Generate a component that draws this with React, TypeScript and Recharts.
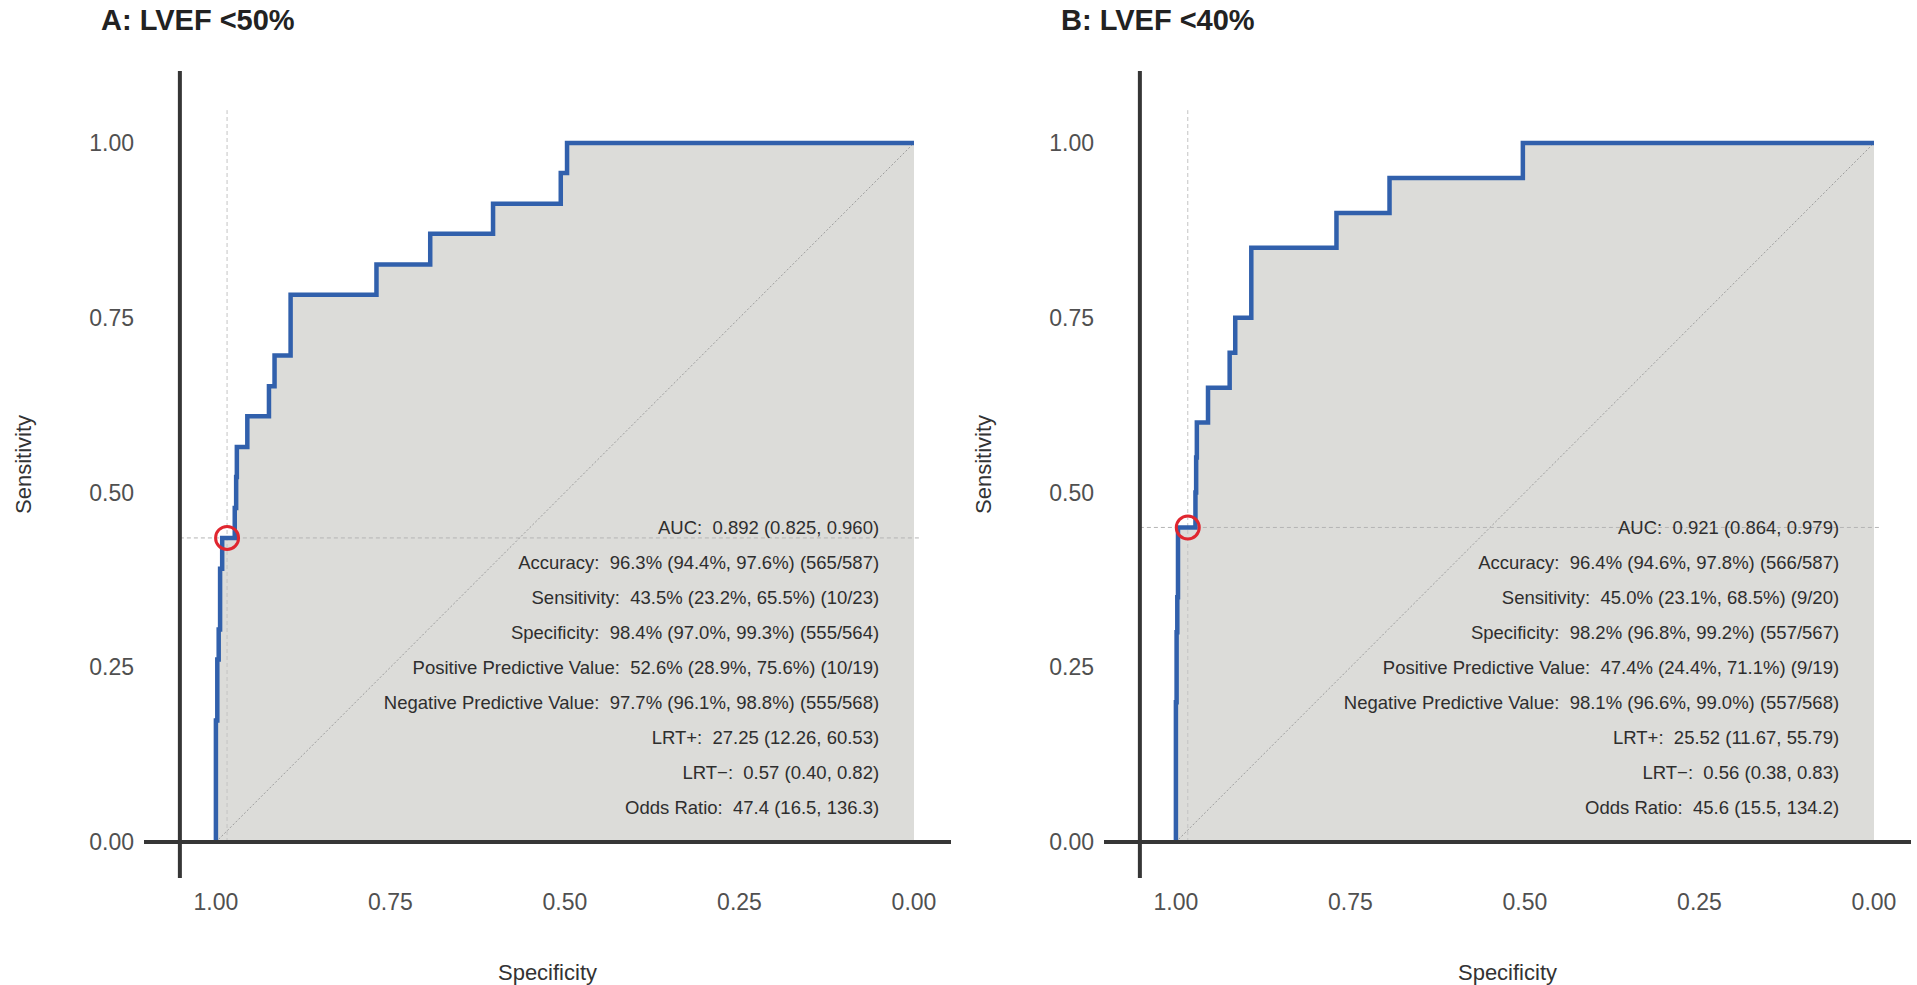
import React from "react"
import { ComposedChart, Area, Line, XAxis, YAxis, ReferenceLine, ReferenceDot } from "recharts"

const FONT = '"Liberation Sans", Arial, Helvetica, sans-serif'

// ROC step curve, panel A (LVEF <50%)
const specA = [
    1.0, 1.0, 0.998, 0.998, 0.996, 0.996, 0.994, 0.994, 0.991, 0.991, 0.973, 0.973, 0.971, 0.971, 0.97, 0.97,
    0.955, 0.955, 0.924, 0.924, 0.916, 0.916, 0.893, 0.893, 0.77, 0.77, 0.693, 0.693, 0.603, 0.603, 0.506, 0.506,
    0.497, 0.497, 0.0,
]
const sensA = [
    0.0, 0.174, 0.174, 0.261, 0.261, 0.304, 0.304, 0.391, 0.391, 0.435, 0.435, 0.478, 0.478, 0.522, 0.522, 0.565,
    0.565, 0.609, 0.609, 0.652, 0.652, 0.696, 0.696, 0.783, 0.783, 0.826, 0.826, 0.87, 0.87, 0.913, 0.913, 0.957,
    0.957, 1.0, 1.0,
]

// ROC step curve, panel B (LVEF <40%)
const specB = [
    1.0, 1.0, 0.999, 0.999, 0.998, 0.998, 0.997, 0.997, 0.972, 0.972, 0.971, 0.971, 0.97, 0.97, 0.954, 0.954,
    0.923, 0.923, 0.915, 0.915, 0.892, 0.892, 0.77, 0.77, 0.694, 0.694, 0.503, 0.503, 0.0,
]
const sensB = [
    0.0, 0.2, 0.2, 0.3, 0.3, 0.35, 0.35, 0.45, 0.45, 0.5, 0.5, 0.55, 0.55, 0.6, 0.6, 0.65, 0.65, 0.7, 0.7, 0.75,
    0.75, 0.85, 0.85, 0.9, 0.9, 0.95, 0.95, 1.0, 1.0,
]

const cutoffA = { spec: 0.984, sens: 0.435 }
const cutoffB = { spec: 0.983, sens: 0.45 }

const statsA = [
    "AUC:\u00a0 0.892 (0.825, 0.960)",
    "Accuracy:\u00a0 96.3% (94.4%, 97.6%) (565/587)",
    "Sensitivity:\u00a0 43.5% (23.2%, 65.5%) (10/23)",
    "Specificity:\u00a0 98.4% (97.0%, 99.3%) (555/564)",
    "Positive Predictive Value:\u00a0 52.6% (28.9%, 75.6%) (10/19)",
    "Negative Predictive Value:\u00a0 97.7% (96.1%, 98.8%) (555/568)",
    "LRT+:\u00a0 27.25 (12.26, 60.53)",
    "LRT\u2212:\u00a0 0.57 (0.40, 0.82)",
    "Odds Ratio:\u00a0 47.4 (16.5, 136.3)",
]
const statsB = [
    "AUC:\u00a0 0.921 (0.864, 0.979)",
    "Accuracy:\u00a0 96.4% (94.6%, 97.8%) (566/587)",
    "Sensitivity:\u00a0 45.0% (23.1%, 68.5%) (9/20)",
    "Specificity:\u00a0 98.2% (96.8%, 99.2%) (557/567)",
    "Positive Predictive Value:\u00a0 47.4% (24.4%, 71.1%) (9/19)",
    "Negative Predictive Value:\u00a0 98.1% (96.6%, 99.0%) (557/568)",
    "LRT+:\u00a0 25.52 (11.67, 55.79)",
    "LRT\u2212:\u00a0 0.56 (0.38, 0.83)",
    "Odds Ratio:\u00a0 45.6 (15.5, 134.2)",
]

const axisTicks = [0, 0.25, 0.5, 0.75, 1]

// panel range (axis lines run to the edges of it)
const X_DOMAIN: [number, number] = [-0.053, 1.103]
const Y_DOMAIN: [number, number] = [-0.0515, 1.103]
const Y_AXIS_AT = 1.0516

const AXIS_COLOR = "#363636"
const TEXT_COLOR = "#505050"

interface PanelProps {
    title: string
    spec: number[]
    sens: number[]
    cutoff: { spec: number; sens: number }
    stats: string[]
    left: number
    width: number
}

const RocPanel: React.FC<PanelProps> = ({ title, spec, sens, cutoff, stats, left, width }) => {
    const data = spec.map((s, i) => ({ spec: s, sens: sens[i] }))

    return (
        <div style={{ position: "absolute", left, top: 0, width, height: 985 }}>
            <div
                style={{
                    position: "absolute",
                    left: 101,
                    top: 6,
                    fontFamily: FONT,
                    fontWeight: "bold",
                    fontSize: 29,
                    lineHeight: "29px",
                    color: "#222",
                    whiteSpace: "nowrap",
                }}
            >
                {title}
            </div>
            <ComposedChart
                width={width}
                height={985}
                data={data}
                margin={{ top: 71, right: width - 951, bottom: 0, left: 0 }}
            >
                <XAxis
                    type="number"
                    dataKey="spec"
                    domain={X_DOMAIN}
                    allowDataOverflow
                    reversed
                    ticks={axisTicks}
                    tickFormatter={(v: number) => v.toFixed(2)}
                    axisLine={false}
                    tickLine={false}
                    tickSize={0}
                    tickMargin={16}
                    height={107}
                    tick={{ fontSize: 23, fill: TEXT_COLOR, fontFamily: FONT }}
                    label={{
                        value: "Specificity",
                        position: "insideBottom",
                        offset: 5,
                        fontSize: 22,
                        fill: "#333",
                        fontFamily: FONT,
                    }}
                />
                <YAxis
                    type="number"
                    domain={Y_DOMAIN}
                    allowDataOverflow
                    ticks={axisTicks}
                    tickFormatter={(v: number) => v.toFixed(2)}
                    axisLine={false}
                    tickLine={false}
                    tickSize={0}
                    tickMargin={10}
                    width={144}
                    tick={{ fontSize: 23, fill: TEXT_COLOR, fontFamily: FONT }}
                    label={{
                        value: "Sensitivity",
                        angle: -90,
                        position: "insideLeft",
                        offset: 23,
                        dy: -10,
                        style: { textAnchor: "middle" },
                        fontSize: 22,
                        fill: "#333",
                        fontFamily: FONT,
                    }}
                />
                <Area
                    dataKey="sens"
                    type="linear"
                    fill="#dcdcd9"
                    fillOpacity={1}
                    stroke="none"
                    baseValue={0}
                    isAnimationActive={false}
                />
                <ReferenceLine
                    segment={[{ x: 1, y: 0 }, { x: 0, y: 1 }]}
                    stroke="#9c9c9c"
                    strokeDasharray="2 2"
                    ifOverflow="visible"
                />
                <ReferenceLine
                    segment={[{ x: Y_AXIS_AT, y: cutoff.sens }, { x: -0.01, y: cutoff.sens }]}
                    stroke="#b4b4b4"
                    strokeDasharray="4 3"
                    ifOverflow="visible"
                />
                <ReferenceLine
                    segment={[{ x: cutoff.spec, y: 0 }, { x: cutoff.spec, y: 1.047 }]}
                    stroke="#c4c4c4"
                    strokeDasharray="4 3"
                    ifOverflow="visible"
                />
                <Line
                    dataKey="sens"
                    type="linear"
                    stroke="#3160ac"
                    strokeWidth={4.5}
                    dot={false}
                    activeDot={false}
                    isAnimationActive={false}
                />
                <ReferenceLine
                    segment={[{ x: X_DOMAIN[1], y: 0 }, { x: X_DOMAIN[0], y: 0 }]}
                    stroke={AXIS_COLOR}
                    strokeWidth={4}
                    ifOverflow="visible"
                />
                <ReferenceLine
                    segment={[{ x: Y_AXIS_AT, y: Y_DOMAIN[0] }, { x: Y_AXIS_AT, y: Y_DOMAIN[1] }]}
                    stroke={AXIS_COLOR}
                    strokeWidth={4}
                    ifOverflow="visible"
                />
                <ReferenceDot
                    x={cutoff.spec}
                    y={cutoff.sens}
                    r={11.5}
                    fill="none"
                    stroke="#e0262f"
                    strokeWidth={3}
                    ifOverflow="visible"
                />
                {stats.map((s, i) => (
                    <ReferenceDot
                        key={s}
                        x={0.05}
                        y={0.45 - 0.05 * i}
                        r={0}
                        fill="none"
                        stroke="none"
                        label={{
                            value: s,
                            position: "left",
                            offset: 0,
                            fontSize: 18.5,
                            fill: "#2e2e2e",
                            fontFamily: FONT,
                        }}
                    />
                ))}
            </ComposedChart>
        </div>
    )
}

const App: React.FC = () => (
    <div
        style={{
            position: "absolute",
            left: 0,
            top: 0,
            width: 1917,
            height: 985,
            overflow: "hidden",
            background: "#fff",
        }}
    >
        <RocPanel
            title="A: LVEF <50%"
            spec={specA}
            sens={sensA}
            cutoff={cutoffA}
            stats={statsA}
            left={0}
            width={957}
        />
        <RocPanel
            title="B: LVEF <40%"
            spec={specB}
            sens={sensB}
            cutoff={cutoffB}
            stats={statsB}
            left={960}
            width={957}
        />
    </div>
)

export default App
